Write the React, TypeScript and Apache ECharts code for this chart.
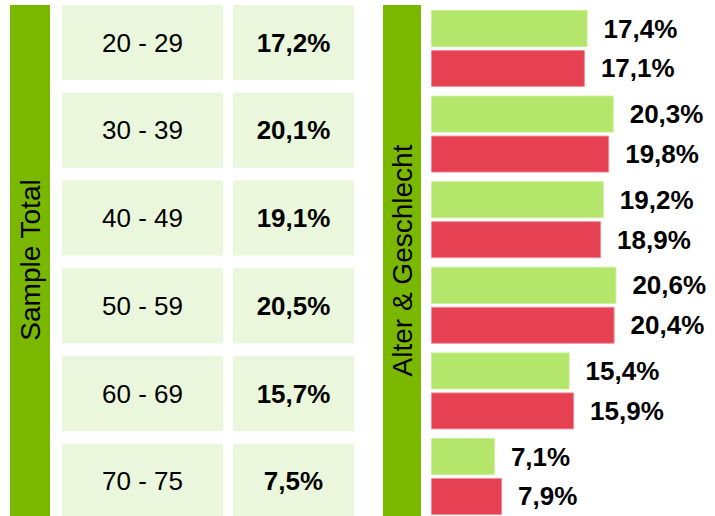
import React, { useEffect, useRef } from "react";
import * as echarts from "echarts";

const ageGroups = ["20 - 29", "30 - 39", "40 - 49", "50 - 59", "60 - 69", "70 - 75"];
const sampleTotal = [17.2, 20.1, 19.1, 20.5, 15.7, 7.5];
const maleShare = [17.4, 20.3, 19.2, 20.6, 15.4, 7.1];
const femaleShare = [17.1, 19.8, 18.9, 20.4, 15.9, 7.9];
const leftTitle = "Sample Total";
const rightTitle = "Alter & Geschlecht";

const FONT = "'Liberation Sans', Arial, Helvetica, sans-serif";
const HEADER_GREEN = "#7ab800";
const CELL_BG = "#ebf7dc";
const BAR_GREEN = "#b3e66a";
const BAR_RED = "#e64152";

const fmt = (v: number) => v.toFixed(1).replace(".", ",") + "%";

function cellRenderer(texts: string[], bold: boolean) {
  return (params: any, api: any) => {
    const cs = params.coordSys;
    const row = api.value(1);
    const center = api.coord([0, row]);
    const band = api.size([0, 1])[1];
    const gap = 12.75;
    const top = center[1] - band / 2;
    const h = band - gap;
    return {
      type: "group",
      children: [
        {
          type: "rect",
          shape: { x: cs.x, y: top, width: cs.width, height: h },
          style: { fill: CELL_BG },
        },
        {
          type: "text",
          style: {
            text: texts[params.dataIndex],
            x: cs.x + cs.width / 2,
            y: top + h / 2,
            align: "center",
            verticalAlign: "middle",
            fontSize: 26,
            fontWeight: bold ? "bold" : "normal",
            fontFamily: FONT,
            fill: "#000",
          },
        },
      ],
    };
  };
}

export default function App() {
  const ref = useRef<HTMLDivElement>(null);
  useEffect(() => {
    if (!ref.current) return;
    const chart = echarts.init(ref.current, undefined, { renderer: "svg" });
    const rowData = ageGroups.map((_, i) => [0, i]);
    const tableGridTop = 5;
    const tableGridHeight = 87.75 * ageGroups.length;
    const barLabel = {
      show: true,
      position: "right",
      distance: 16,
      formatter: (p: any) => fmt(p.value),
      fontSize: 26,
      fontWeight: "bold",
      fontFamily: FONT,
      color: "#000",
    };
    chart.setOption({
      animation: false,
      grid: [
        { left: 62, width: 161, top: tableGridTop, height: tableGridHeight },
        { left: 233, width: 121, top: tableGridTop, height: tableGridHeight },
        { left: 431, width: 270, top: 5.7, height: 513.6 },
      ],
      xAxis: [
        { gridIndex: 0, type: "value", min: 0, max: 1, show: false },
        { gridIndex: 1, type: "value", min: 0, max: 1, show: false },
        { gridIndex: 2, type: "value", min: 0, max: 30, show: false },
      ],
      yAxis: [
        { gridIndex: 0, type: "category", data: ageGroups, inverse: true, show: false },
        { gridIndex: 1, type: "category", data: ageGroups, inverse: true, show: false },
        { gridIndex: 2, type: "category", data: ageGroups, inverse: true, show: false },
      ],
      graphic: [
        {
          type: "rect",
          shape: { x: 10, y: 5, width: 40, height: 540 },
          style: { fill: HEADER_GREEN },
        },
        {
          type: "text",
          x: 30,
          y: 260,
          rotation: Math.PI / 2,
          style: {
            text: leftTitle,
            align: "center",
            verticalAlign: "middle",
            fontSize: 28,
            fontFamily: FONT,
            fill: "#000",
          },
        },
        {
          type: "rect",
          shape: { x: 383, y: 5, width: 38, height: 540 },
          style: { fill: HEADER_GREEN },
        },
        {
          type: "text",
          x: 402,
          y: 260.5,
          rotation: Math.PI / 2,
          style: {
            text: rightTitle,
            align: "center",
            verticalAlign: "middle",
            fontSize: 28,
            fontFamily: FONT,
            fill: "#000",
          },
        },
      ],
      series: [
        {
          type: "custom",
          xAxisIndex: 0,
          yAxisIndex: 0,
          data: rowData,
          renderItem: cellRenderer(ageGroups, false),
        },
        {
          type: "custom",
          xAxisIndex: 1,
          yAxisIndex: 1,
          data: rowData,
          renderItem: cellRenderer(sampleTotal.map(fmt), true),
        },
        {
          type: "bar",
          xAxisIndex: 2,
          yAxisIndex: 2,
          data: maleShare,
          barWidth: 37,
          barGap: "8%",
          itemStyle: { color: BAR_GREEN, borderColor: "#c9ef95", borderWidth: 1 },
          label: barLabel,
        },
        {
          type: "bar",
          xAxisIndex: 2,
          yAxisIndex: 2,
          data: femaleShare,
          barWidth: 37,
          barGap: "8%",
          itemStyle: { color: BAR_RED, borderColor: "#f08d98", borderWidth: 1 },
          label: barLabel,
        },
      ],
    });
    return () => chart.dispose();
  }, []);
  return (
    <div
      ref={ref}
      style={{ position: "fixed", left: 0, top: 0, width: 715, height: 560, background: "#fff" }}
    />
  );
}
